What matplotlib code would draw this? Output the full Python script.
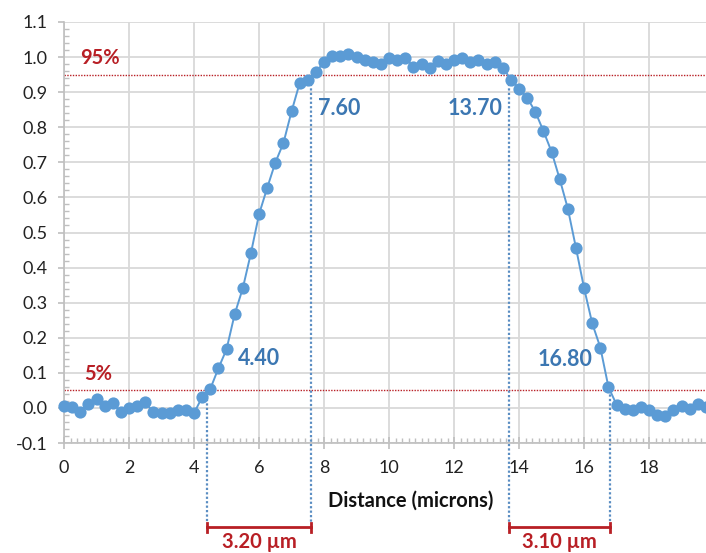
import matplotlib
matplotlib.use("Agg")
import matplotlib.pyplot as plt
from matplotlib.ticker import MultipleLocator, FuncFormatter

plt.rcParams['font.family'] = ['Lato', 'DejaVu Sans']

# ---- data ----
distance = [0.00, 0.25, 0.50, 0.75, 1.00, 1.25, 1.50, 1.75, 2.00, 2.25,
            2.50, 2.75, 3.00, 3.25, 3.50, 3.75, 4.00, 4.25, 4.50, 4.75,
            5.00, 5.25, 5.50, 5.75, 6.00, 6.25, 6.50, 6.75, 7.00, 7.25,
            7.50, 7.75, 8.00, 8.25, 8.50, 8.75, 9.00, 9.25, 9.50, 9.75,
            10.00, 10.25, 10.50, 10.75, 11.00, 11.25, 11.50, 11.75, 12.00, 12.25,
            12.50, 12.75, 13.00, 13.25, 13.50, 13.75, 14.00, 14.25, 14.50, 14.75,
            15.00, 15.25, 15.50, 15.75, 16.00, 16.25, 16.50, 16.75, 17.00, 17.25,
            17.50, 17.75, 18.00, 18.25, 18.50, 18.75, 19.00, 19.25, 19.50, 19.75]
intensity = [0.006, 0.002, -0.012, 0.012, 0.026, 0.006, 0.014, -0.012, 0.000, 0.006,
             0.016, -0.013, -0.015, -0.015, -0.007, -0.007, -0.015, 0.031, 0.054, 0.113,
             0.167, 0.267, 0.341, 0.441, 0.552, 0.627, 0.699, 0.755, 0.845, 0.926,
             0.936, 0.957, 0.986, 1.002, 1.002, 1.008, 1.000, 0.992, 0.986, 0.979,
             0.998, 0.992, 0.998, 0.972, 0.979, 0.970, 0.989, 0.981, 0.992, 0.998,
             0.986, 0.991, 0.979, 0.986, 0.970, 0.936, 0.910, 0.884, 0.844, 0.789,
             0.730, 0.652, 0.568, 0.456, 0.341, 0.241, 0.172, 0.059, 0.009, -0.003,
             -0.007, 0.002, -0.007, -0.019, -0.024, -0.005, 0.006, -0.003, 0.012, 0.004]

thresholds = [0.95, 0.05]
threshold_labels = ["95%", "5%"]
edge_positions = [4.40, 7.60, 13.70, 16.80]
edge_levels = [0.05, 0.95, 0.95, 0.05]
edge_labels = ["4.40", "7.60", "13.70", "16.80"]
widths = [(4.40, 7.60, "3.20 \u00b5m"), (13.70, 16.80, "3.10 \u00b5m")]
x_label = "Distance (microns)"

# ---- styling ----
BLUE = '#5B9BD5'
LBLUE = '#3C77B2'
VLINE = '#5A8DC2'
RED = '#B81F25'
GRID = '#D9D9D9'
AX = '#BFBFBF'

fig = plt.figure(figsize=(7.06, 5.53), dpi=100)
ax = fig.add_axes([64/706, 1-443/553, 1-64/706, (443-22)/553])

ax.set_xlim(0, 19.75)
ax.set_ylim(-0.1, 1.1)
ax.xaxis.set_major_locator(MultipleLocator(2))
ax.xaxis.set_minor_locator(MultipleLocator(0.2))
ax.yaxis.set_major_locator(MultipleLocator(0.1))
ax.yaxis.set_minor_locator(MultipleLocator(0.02))
ax.yaxis.set_major_formatter(FuncFormatter(lambda v, p: f"{v:.1f}"))
ax.xaxis.set_major_formatter(FuncFormatter(lambda v, p: f"{v:.0f}"))

ax.grid(True, which='major', color=GRID, linewidth=1.3)
ax.set_axisbelow(True)
for s in ['top', 'right']:
    ax.spines[s].set_visible(False)
for s in ['left', 'bottom']:
    ax.spines[s].set_color(AX)
    ax.spines[s].set_linewidth(1.2)

ax.tick_params(axis='x', which='major', direction='inout', length=8, color=AX,
               width=1.2, labelsize=13, pad=8, labelcolor='#222222')
ax.tick_params(axis='x', which='minor', direction='in', length=3.5, color=AX, width=1)
ax.tick_params(axis='y', which='major', direction='out', length=4, color=AX,
               width=1.2, labelsize=13, pad=8, labelcolor='#222222')
ax.tick_params(axis='y', which='minor', direction='in', length=3.5, color=AX, width=1)

# threshold lines
for t in thresholds:
    ax.axhline(t, color=RED, linestyle=(0, (1, 1)), linewidth=1.0, zorder=2)
ax.text(0.49, 0.996, threshold_labels[0], color=RED, fontsize=14.5,
        fontweight='bold', va='center', ha='left')
ax.text(0.62, 0.098, threshold_labels[1], color=RED, fontsize=14.5,
        fontweight='bold', va='center', ha='left')

# vertical edge lines
for xp, lv in zip(edge_positions, edge_levels):
    ax.plot([xp, xp], [lv, -0.325], color=VLINE, linestyle=(0, (1, 1)),
            linewidth=1.6, clip_on=False, zorder=2)

# data
ax.plot(distance, intensity, color=BLUE, linewidth=1.4, marker='o',
        markersize=8.8, markeredgewidth=0, clip_on=False, zorder=4)

# edge labels
ax.text(7.82, 0.854, edge_labels[1], color=LBLUE, fontsize=15.5, fontweight='bold',
        ha='left', va='center')
ax.text(13.48, 0.854, edge_labels[2], color=LBLUE, fontsize=15.5, fontweight='bold',
        ha='right', va='center')
ax.text(5.36, 0.140, edge_labels[0], color=LBLUE, fontsize=15.5, fontweight='bold',
        ha='left', va='center')
ax.text(16.25, 0.137, edge_labels[3], color=LBLUE, fontsize=15.5, fontweight='bold',
        ha='right', va='center')

# width brackets
yb = -0.340
for x0, x1, lab in widths:
    ax.plot([x0, x1], [yb, yb], color=RED, linewidth=2, clip_on=False)
    for xe in (x0, x1):
        ax.plot([xe, xe], [yb - 0.013, yb + 0.013], color=RED, linewidth=2,
                clip_on=False)
    ax.text((x0 + x1) / 2, -0.383, lab, color=RED, fontsize=14.5,
            fontweight='bold', ha='center', va='center')

ax.text((411 - 64) / 32.5, (443.3 - 501.5) / 351.5 - 0.1, x_label,
        fontsize=14.5, fontweight='bold', ha='center', va='center', color='#111111')

fig.savefig("out.png", dpi=100)
